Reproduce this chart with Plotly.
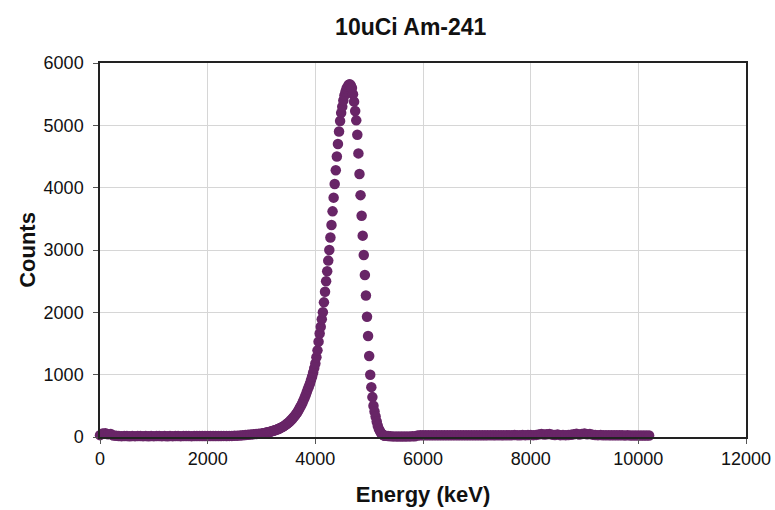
import plotly.graph_objects as go

# Low-energy baseline (keV, counts)
energy_low = [0, 50, 100, 150, 200, 250, 300, 350, 400, 450, 500, 550, 600, 650, 700, 750, 800, 850, 900, 950,
              1000, 1050, 1100, 1150, 1200, 1250, 1300, 1350, 1400, 1450, 1500, 1550, 1600, 1650, 1700, 1750,
              1800, 1850, 1900, 1950, 2000, 2050, 2100, 2150, 2200, 2250, 2300, 2350, 2400, 2450, 2500, 2550,
              2600, 2650, 2700, 2750, 2800, 2850, 2900, 2950]
counts_low = [30, 55, 60, 45, 50, 25, 20, 15, 14, 16, 15, 13, 15, 14, 16, 15, 14, 15, 13, 15,
              14, 16, 15, 14, 15, 13, 15, 14, 16, 15, 14, 15, 16, 15, 14, 15,
              16, 15, 15, 16, 16, 15, 17, 16, 17, 16, 18, 17, 18, 18, 20, 22,
              25, 28, 32, 36, 40, 44, 48, 52]

# Alpha peak region
energy_peak = [3000, 3020, 3040, 3060, 3080, 3100, 3120, 3140, 3160, 3180, 3200, 3220, 3240, 3260, 3280,
               3300, 3320, 3340, 3360, 3380, 3400, 3420, 3440, 3460, 3480, 3500, 3520, 3540, 3560, 3580,
               3600, 3620, 3640, 3660, 3680, 3700, 3720, 3740, 3760, 3780, 3800, 3820, 3840, 3860, 3880,
               3900, 3920, 3940, 3960, 3980, 4000, 4020, 4040, 4060, 4080, 4100, 4120, 4140, 4160, 4180,
               4200, 4220, 4240, 4260, 4280, 4300, 4320, 4340, 4360, 4380, 4400, 4420, 4440, 4460, 4480,
               4500, 4520, 4540, 4560, 4580, 4600, 4620, 4640, 4660, 4680, 4700, 4720, 4740, 4760, 4780,
               4800, 4820, 4840, 4860, 4880, 4900, 4920, 4940, 4960, 4980, 5000, 5020, 5040, 5060, 5080,
               5100, 5120, 5140, 5160, 5180, 5200, 5220, 5240, 5260, 5280, 5300]
counts_peak = [55, 58, 60, 63, 67, 72, 76, 81, 85, 90, 95, 100, 106, 112, 118,
               125, 133, 141, 150, 158, 166, 178, 190, 203, 216, 230, 246, 264, 282, 300,
               320, 343, 366, 390, 418, 450, 480, 512, 548, 588, 628, 670, 718, 765, 812,
               860, 915, 970, 1035, 1105, 1180, 1280, 1390, 1530, 1660, 1770, 1890, 2000, 2160, 2330,
               2500, 2660, 2830, 3000, 3200, 3400, 3620, 3840, 4060, 4280, 4500, 4700, 4900, 5070, 5200,
               5300, 5400, 5480, 5540, 5590, 5620, 5650, 5660, 5640, 5600, 5500, 5380, 5230, 5080, 4850,
               4550, 4220, 3880, 3550, 3230, 2920, 2600, 2270, 1930, 1620, 1300, 1000, 800, 640, 500,
               410, 330, 250, 180, 130, 95, 65, 45, 30, 25, 20]

# High-energy tail (keV, counts)
energy_high = [5350, 5400, 5450, 5500, 5550, 5600, 5650, 5700, 5750, 5800, 5850, 5900, 5950, 6000, 6050,
               6100, 6150, 6200, 6250, 6300, 6350, 6400, 6450, 6500, 6550, 6600, 6650, 6700, 6750, 6800,
               6850, 6900, 6950, 7000, 7050, 7100, 7150, 7200, 7250, 7300, 7350, 7400, 7450, 7500, 7550,
               7600, 7650, 7700, 7750, 7800, 7850, 7900, 7950, 8000, 8050, 8100, 8150, 8200, 8250, 8300,
               8350, 8400, 8450, 8500, 8550, 8600, 8650, 8700, 8750, 8800, 8850, 8900, 8950, 9000, 9050,
               9100, 9150, 9200, 9250, 9300, 9350, 9400, 9450, 9500, 9550, 9600, 9650, 9700, 9750, 9800,
               9850, 9900, 9950, 10000, 10050, 10100, 10150, 10200]
counts_high = [15, 12, 10, 10, 9, 10, 9, 10, 10, 11, 12, 25, 28, 27, 28,
               27, 28, 29, 28, 27, 28, 29, 28, 27, 28, 29, 28, 27, 28, 29,
               28, 27, 28, 29, 28, 27, 28, 29, 30, 28, 29, 30, 28, 29, 30,
               29, 30, 31, 30, 29, 31, 30, 32, 31, 30, 34, 42, 48, 40, 44,
               50, 38, 32, 40, 30, 31, 30, 32, 35, 45, 52, 40, 48, 55, 44,
               50, 38, 32, 30, 31, 29, 30, 28, 29, 28, 27, 28, 27, 26, 27,
               26, 25, 26, 25, 25, 24, 25, 24]

x_ticks = [0, 2000, 4000, 6000, 8000, 10000, 12000]
y_ticks = [0, 1000, 2000, 3000, 4000, 5000, 6000]

energy = energy_low + energy_peak + energy_high
counts = counts_low + counts_peak + counts_high

fig = go.Figure()
fig.add_trace(go.Scatter(
    x=energy, y=counts, mode="markers",
    marker=dict(color="#682567", size=10.5, line=dict(width=0)),
    cliponaxis=False, showlegend=False,
))

font_family = "Liberation Sans, Arial, sans-serif"
fig.update_layout(
    width=775, height=510,
    margin=dict(l=100, r=29, t=63, b=73),
    paper_bgcolor="white", plot_bgcolor="white",
    font=dict(family=font_family, color="#111111", size=18),
    title=dict(text="<b>10uCi Am-241</b>", x=0.530, xanchor="center", y=0.947, yanchor="middle",
               font=dict(size=23, family=font_family, color="#111111")),
)
fig.update_xaxes(
    range=[0, 12000], tickvals=x_ticks, ticktext=[str(v) for v in x_ticks],
    showgrid=True, gridcolor="#d6d6d6", gridwidth=1,
    showline=True, linecolor="#222222", linewidth=1.5, mirror=True,
    ticks="outside", ticklen=5, tickcolor="#555555",
    zeroline=False, automargin=False,
    title=dict(text="<b>Energy (keV)</b>", font=dict(size=22), standoff=18),
    tickfont=dict(size=18),
)
fig.update_yaxes(
    range=[0, 6000], tickvals=y_ticks, ticktext=[str(v) for v in y_ticks],
    showgrid=True, gridcolor="#d6d6d6", gridwidth=1,
    showline=True, linecolor="#222222", linewidth=1.5, mirror=True,
    ticks="outside", ticklen=5, tickcolor="#555555",
    zeroline=False, ticklabelstandoff=6, automargin=False,
    title=dict(text="<b>Counts</b>", font=dict(size=22), standoff=2),
    tickfont=dict(size=18),
)

fig.write_html("out.html")
